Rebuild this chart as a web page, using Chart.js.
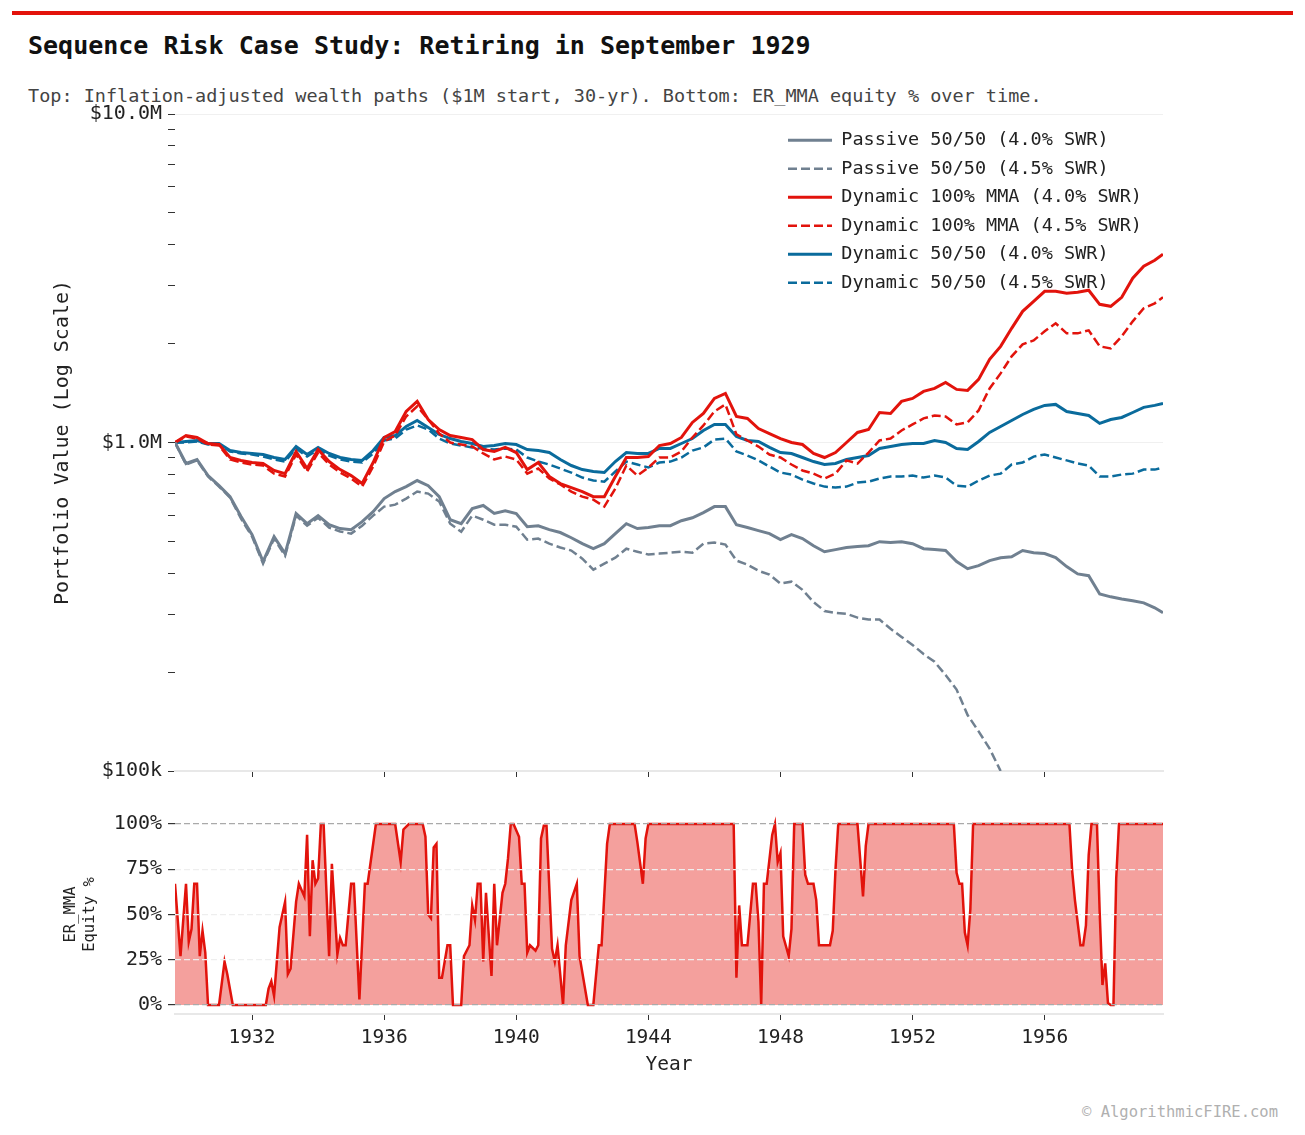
<!DOCTYPE html>
<html>
<head>
<meta charset="utf-8">
<script src="https://cdn.jsdelivr.net/npm/chart.js@4.4.1/dist/chart.umd.min.js"></script>
<style>
  body { margin: 0; background: #fff; font-family: "DejaVu Sans Mono", monospace; }
  #page { position: relative; width: 1305px; height: 1135px; overflow: hidden; }
  #bar { position: absolute; left: 12px; top: 11px; width: 1281px; height: 4px; background: #e3120b; }
  #title { position: absolute; left: 28px; top: 31px; font-size: 25px; font-weight: bold; color: #111; white-space: nowrap; }
  #subtitle { position: absolute; left: 28px; top: 85px; font-size: 18.5px; color: #444; white-space: nowrap; }
  #credit { position: absolute; right: 27px; top: 1103px; font-size: 15.5px; color: #b0b0b0; white-space: nowrap; }
  #topChart { position: absolute; left: 0; top: 96px; }
  #botChart { position: absolute; left: 0; top: 797px; }
</style>
</head>
<body>
<div id="page">
  <div id="bar"></div>
  <div id="title">Sequence Risk Case Study: Retiring in September 1929</div>
  <div id="subtitle">Top: Inflation-adjusted wealth paths ($1M start, 30-yr). Bottom: ER_MMA equity % over time.</div>
  <canvas id="topChart" width="1200" height="696"></canvas>
  <canvas id="botChart" width="1200" height="304"></canvas>
  <div id="credit">© AlgorithmicFIRE.com</div>
</div>
<script>
// months since Sep 1929 (every 4 months + last month, Aug 1959)
var months = [];
for (var m = 0; m < 360; m += 4) months.push(m);
months.push(359);

// wealth paths, $M (inflation adjusted)
var passive40 = [
  1.000, 0.863, 0.888, 0.793, 0.739, 0.684, 0.595, 0.524, 0.434, 0.517,
  0.459, 0.608, 0.566, 0.599, 0.562, 0.547, 0.543, 0.574, 0.616, 0.675,
  0.709, 0.734, 0.766, 0.739, 0.684, 0.582, 0.566, 0.629, 0.643, 0.608,
  0.620, 0.608, 0.554, 0.558, 0.543, 0.532, 0.513, 0.492, 0.475, 0.492,
  0.528, 0.566, 0.547, 0.551, 0.558, 0.558, 0.578, 0.590, 0.612, 0.638,
  0.638, 0.562, 0.551, 0.539, 0.528, 0.506, 0.524, 0.510, 0.485, 0.465,
  0.472, 0.479, 0.482, 0.485, 0.499, 0.496, 0.499, 0.492, 0.475, 0.472,
  0.469, 0.434, 0.413, 0.422, 0.437, 0.446, 0.449, 0.469, 0.462, 0.459,
  0.446, 0.419, 0.398, 0.393, 0.346, 0.339, 0.334, 0.330, 0.325, 0.314,
  0.303
];
var passive45 = [
  1.000, 0.857, 0.882, 0.788, 0.734, 0.680, 0.586, 0.517, 0.428, 0.510,
  0.452, 0.599, 0.558, 0.590, 0.551, 0.536, 0.528, 0.558, 0.599, 0.638,
  0.647, 0.675, 0.709, 0.699, 0.661, 0.566, 0.535, 0.599, 0.582, 0.562,
  0.562, 0.554, 0.506, 0.510, 0.492, 0.479, 0.469, 0.443, 0.410, 0.428,
  0.446, 0.475, 0.465, 0.456, 0.459, 0.462, 0.465, 0.462, 0.492, 0.496,
  0.489, 0.437, 0.425, 0.407, 0.396, 0.372, 0.377, 0.356, 0.327, 0.307,
  0.303, 0.301, 0.293, 0.289, 0.289, 0.271, 0.256, 0.242, 0.227, 0.215,
  0.196, 0.177, 0.148, 0.132, 0.117, 0.100, null, null, null, null,
  null, null, null, null, null, null, null, null, null, null,
  null
];
var dynMma40 = [
  1.000, 1.050, 1.036, 0.993, 0.986, 0.900, 0.882, 0.869, 0.863, 0.822,
  0.804, 0.939, 0.833, 0.952, 0.875, 0.827, 0.793, 0.750, 0.869, 1.036,
  1.080, 1.243, 1.334, 1.175, 1.095, 1.050, 1.036, 1.021, 0.952, 0.939,
  0.966, 0.932, 0.827, 0.869, 0.788, 0.750, 0.729, 0.709, 0.684, 0.684,
  0.788, 0.900, 0.900, 0.906, 0.979, 0.993, 1.036, 1.151, 1.226, 1.362,
  1.411, 1.200, 1.184, 1.103, 1.065, 1.028, 1.000, 0.986, 0.926, 0.900,
  0.932, 1.000, 1.073, 1.095, 1.234, 1.226, 1.334, 1.362, 1.431, 1.461,
  1.524, 1.451, 1.441, 1.556, 1.791, 1.962, 2.226, 2.508, 2.691, 2.886,
  2.886, 2.847, 2.866, 2.907, 2.634, 2.598, 2.767, 3.162, 3.440, 3.588,
  3.743
];
var dynMma45 = [
  1.000, 1.043, 1.028, 0.986, 0.979, 0.888, 0.869, 0.857, 0.851, 0.804,
  0.788, 0.919, 0.816, 0.932, 0.857, 0.810, 0.777, 0.734, 0.845, 1.007,
  1.050, 1.200, 1.288, 1.175, 1.065, 1.000, 0.986, 0.972, 0.926, 0.888,
  0.906, 0.888, 0.804, 0.833, 0.777, 0.745, 0.709, 0.684, 0.670, 0.638,
  0.724, 0.851, 0.793, 0.839, 0.900, 0.900, 0.939, 1.036, 1.127, 1.243,
  1.306, 1.058, 1.014, 0.972, 0.919, 0.900, 0.857, 0.822, 0.804, 0.777,
  0.804, 0.882, 0.863, 0.932, 1.014, 1.028, 1.088, 1.135, 1.184, 1.209,
  1.200, 1.135, 1.151, 1.252, 1.461, 1.623, 1.829, 1.990, 2.046, 2.180,
  2.306, 2.149, 2.149, 2.195, 1.962, 1.934, 2.105, 2.338, 2.562, 2.653,
  2.767
];
var dyn5040 = [
  1.000, 1.007, 1.014, 0.993, 0.993, 0.945, 0.932, 0.926, 0.919, 0.900,
  0.888, 0.972, 0.919, 0.966, 0.926, 0.900, 0.888, 0.882, 0.945, 1.036,
  1.050, 1.119, 1.167, 1.111, 1.058, 1.028, 1.007, 0.993, 0.972, 0.979,
  0.993, 0.986, 0.952, 0.945, 0.932, 0.888, 0.851, 0.827, 0.816, 0.810,
  0.875, 0.932, 0.926, 0.926, 0.959, 0.959, 0.993, 1.028, 1.088, 1.135,
  1.135, 1.043, 1.014, 1.007, 0.966, 0.932, 0.926, 0.900, 0.875, 0.857,
  0.863, 0.888, 0.900, 0.913, 0.959, 0.972, 0.986, 0.993, 0.993, 1.014,
  1.000, 0.959, 0.952, 1.007, 1.073, 1.119, 1.167, 1.217, 1.261, 1.297,
  1.306, 1.243, 1.226, 1.209, 1.143, 1.175, 1.192, 1.234, 1.279, 1.297,
  1.315
];
var dyn5045 = [
  1.000, 1.000, 1.007, 0.986, 0.986, 0.939, 0.926, 0.919, 0.906, 0.888,
  0.875, 0.959, 0.906, 0.952, 0.913, 0.888, 0.875, 0.869, 0.926, 1.014,
  1.028, 1.095, 1.127, 1.095, 1.028, 0.993, 0.979, 0.966, 0.959, 0.952,
  0.959, 0.952, 0.900, 0.875, 0.857, 0.833, 0.810, 0.782, 0.766, 0.760,
  0.816, 0.875, 0.857, 0.839, 0.869, 0.875, 0.900, 0.945, 0.966, 1.021,
  1.028, 0.939, 0.913, 0.882, 0.845, 0.810, 0.799, 0.771, 0.750, 0.734,
  0.729, 0.734, 0.755, 0.760, 0.777, 0.788, 0.788, 0.793, 0.782, 0.793,
  0.782, 0.739, 0.734, 0.766, 0.793, 0.804, 0.857, 0.869, 0.906, 0.919,
  0.900, 0.882, 0.863, 0.851, 0.788, 0.788, 0.799, 0.804, 0.827, 0.827,
  0.839
];

// ER_MMA equity %, turning points (month since Sep 1929, percent)
var eqMonths = [0, 2, 4, 5, 6, 7, 8, 9, 10, 11, 12, 16, 18, 19, 21, 33, 34, 35, 36, 38,
  40, 41, 42, 44, 45, 47, 48, 49, 50, 51, 52, 53, 54, 56, 57, 59, 60, 61, 62, 64,
  65, 67, 69, 70, 73, 80, 82, 83, 85, 90, 91, 92, 93, 94, 95, 96, 97, 99, 100, 101,
  104, 105, 107, 108, 109, 110, 111, 112, 113, 115, 116, 117, 119, 120, 121, 122, 123, 125, 126, 127,
  128, 129, 131, 132, 133, 134, 135, 137, 138, 139, 141, 142, 144, 146, 147, 150, 152, 154, 155, 157,
  158, 167, 168, 170, 171, 172, 203, 204, 205, 206, 208, 210, 211, 212, 213, 214, 215, 217, 218, 219,
  220, 221, 223, 224, 225, 228, 229, 230, 232, 233, 234, 238, 239, 240, 241, 248, 250, 251, 252, 283,
  284, 285, 286, 287, 288, 289, 290, 325, 326, 327, 329, 330, 331, 332, 333, 335, 336, 337, 338, 339,
  340, 341, 342, 343, 359];
var eqPct = [67, 27, 67, 35, 42, 67, 67, 27, 41, 29, 0, 0, 24, 17, 0, 0, 9, 13, 5, 43,
  57, 17, 20, 57, 67, 60, 94, 38, 80, 67, 70, 100, 100, 27, 78, 28, 37, 33, 33, 67,
  67, 3, 67, 67, 100, 100, 79, 97, 100, 100, 93, 50, 48, 87, 89, 15, 15, 33, 33, 0,
  0, 27, 33, 55, 47, 67, 67, 24, 62, 16, 67, 33, 62, 67, 81, 100, 100, 93, 67, 67,
  29, 33, 30, 33, 92, 99, 99, 31, 24, 33, 0, 33, 58, 67, 27, 0, 0, 33, 33, 89,
  100, 100, 90, 67, 92, 100, 100, 15, 55, 33, 33, 67, 67, 46, 0, 67, 67, 94, 100, 79,
  84, 38, 27, 42, 100, 100, 72, 67, 67, 58, 33, 33, 41, 75, 100, 100, 60, 88, 100, 100,
  73, 67, 67, 40, 33, 53, 100, 100, 74, 58, 33, 33, 44, 83, 100, 100, 51, 11, 23, 1,
  0, 0, 70, 100, 100];

// axis ticks
var yearTicks = [1932, 1936, 1940, 1944, 1948, 1952, 1956];
var logTicks = [0.1, 0.2, 0.3, 0.4, 0.5, 0.6, 0.7, 0.8, 0.9, 1, 2, 3, 4, 5, 6, 7, 8, 9, 10];
var logMajor = [0.1, 1, 10];
var logMajorLabels = ['$100k', '$1.0M', '$10.0M'];
var pctTicks = [0, 25, 50, 75, 100];

var GRAY = '#708090', RED = '#e2130c', BLUE = '#0a6b9c';
var DASH = [9, 4];

function monthToYear(mo) { return 1929 + (8 + mo) / 12; }
var xMin = monthToYear(0), xMax = monthToYear(359);

function pts(series) {
  return months.map(function (mo, i) { return { x: monthToYear(mo), y: series[i] }; });
}

Chart.defaults.font.family = '"DejaVu Sans Mono", monospace';
Chart.defaults.color = '#222';

// put the legend in the upper right corner of the plot
var legendInPlot = {
  id: 'legendInPlot',
  afterLayout: function (chart) {
    var lg = chart.legend;
    lg.left = 778;
    lg.right = lg.left + lg.width;
    lg.top = 25;
    lg.bottom = lg.top + lg.height;
  }
};

new Chart(document.getElementById('topChart'), {
  type: 'line',
  data: {
    datasets: [
      { label: 'Passive 50/50 (4.0% SWR)', data: pts(passive40), borderColor: GRAY, borderWidth: 3 },
      { label: 'Passive 50/50 (4.5% SWR)', data: pts(passive45), borderColor: GRAY, borderWidth: 2.5, borderDash: DASH },
      { label: 'Dynamic 100% MMA (4.0% SWR)', data: pts(dynMma40), borderColor: RED, borderWidth: 3 },
      { label: 'Dynamic 100% MMA (4.5% SWR)', data: pts(dynMma45), borderColor: RED, borderWidth: 2.5, borderDash: DASH },
      { label: 'Dynamic 50/50 (4.0% SWR)', data: pts(dyn5040), borderColor: BLUE, borderWidth: 3 },
      { label: 'Dynamic 50/50 (4.5% SWR)', data: pts(dyn5045), borderColor: BLUE, borderWidth: 2.5, borderDash: DASH }
    ]
  },
  options: {
    responsive: false,
    animation: false,
    layout: { padding: { top: 13, right: 37, left: 0, bottom: 0 } },
    elements: { point: { radius: 0 }, line: { tension: 0, fill: false } },
    scales: {
      x: {
        type: 'linear', min: xMin, max: xMax,
        afterBuildTicks: function (s) { s.ticks = yearTicks.map(function (v) { return { value: v }; }); },
        afterFit: function (s) { s.height = 21; },
        ticks: { display: false },
        grid: { color: 'transparent', drawOnChartArea: false, tickColor: '#333', tickLength: 6 },
        border: { display: true, color: '#e8e8e8', width: 2 }
      },
      y: {
        type: 'logarithmic', min: 0.1, max: 10,
        afterBuildTicks: function (s) { s.ticks = logTicks.map(function (v) { return { value: v }; }); },
        afterFit: function (s) { s.width = 175; },
        ticks: {
          autoSkip: false, padding: 6, color: '#222', font: { size: 20 },
          callback: function (v) { var i = logMajor.indexOf(v); return i >= 0 ? logMajorLabels[i] : ''; }
        },
        grid: {
          color: function (c) { return c.tick && logMajor.indexOf(c.tick.value) >= 0 ? '#f0f0f0' : 'transparent'; },
          tickColor: '#333', tickLength: 7
        },
        border: { display: false },
        title: { display: true, text: 'Portfolio Value (Log Scale)', color: '#222', font: { size: 20 }, padding: { top: 51, bottom: 0 } }
      }
    },
    plugins: {
      legend: {
        position: 'chartArea',
        align: 'start',
        labels: {
          usePointStyle: true, pointStyle: 'line', pointStyleWidth: 44, boxHeight: 18,
          color: '#222', font: { size: 18.5 }, padding: 10,
          generateLabels: function (chart) {
            var items = Chart.defaults.plugins.legend.labels.generateLabels(chart);
            items.forEach(function (it) {
              var ds = chart.data.datasets[it.datasetIndex];
              it.strokeStyle = ds.borderColor;
              it.lineWidth = ds.borderWidth;
              it.lineDash = ds.borderDash || [];
            });
            return items;
          }
        }
      },
      tooltip: { enabled: false }
    }
  },
  plugins: [legendInPlot]
});

new Chart(document.getElementById('botChart'), {
  type: 'line',
  data: {
    datasets: [{
      label: 'ER_MMA Equity %',
      data: eqMonths.map(function (mo, i) { return { x: monthToYear(mo), y: eqPct[i] }; }),
      borderColor: RED, borderWidth: 2.5,
      backgroundColor: 'rgba(227,18,11,0.4)', fill: 'origin',
      pointRadius: 0, tension: 0
    }]
  },
  options: {
    responsive: false,
    animation: false,
    layout: { padding: { top: 13, right: 37, left: 0, bottom: 0 } },
    scales: {
      x: {
        type: 'linear', min: xMin, max: xMax,
        afterBuildTicks: function (s) { s.ticks = yearTicks.map(function (v) { return { value: v }; }); },
        afterFit: function (s) { s.height = 87; },
        ticks: { autoSkip: false, maxRotation: 0, padding: 6, color: '#222', font: { size: 19.5 }, callback: function (v) { return String(v); } },
        grid: { color: 'transparent', drawOnChartArea: false, tickColor: '#333', tickLength: 6 },
        border: { display: true, color: '#e8e8e8', width: 2 },
        title: { display: true, text: 'Year', color: '#222', font: { size: 19.5 }, padding: { top: 0, bottom: 24 } }
      },
      y: {
        min: -5, max: 105,
        afterBuildTicks: function (s) { s.ticks = pctTicks.map(function (v) { return { value: v }; }); },
        afterFit: function (s) { s.width = 175; },
        ticks: { padding: 6, color: '#222', font: { size: 20 }, callback: function (v) { return v + '%'; } },
        grid: {
          z: 1,
          color: function (c) { return c.tick && (c.tick.value === 0 || c.tick.value === 100) ? '#aaaaaa' : '#eeeeee'; },
          lineWidth: 1.2, tickColor: '#333', tickLength: 7
        },
        border: { display: false, dash: [6, 3] },
        title: { display: true, text: ['ER_MMA', 'Equity %'], color: '#222', font: { size: 15.5 }, padding: { top: 62, bottom: 0 } }
      }
    },
    plugins: { legend: { display: false }, tooltip: { enabled: false } }
  }
});
</script>
</body>
</html>
